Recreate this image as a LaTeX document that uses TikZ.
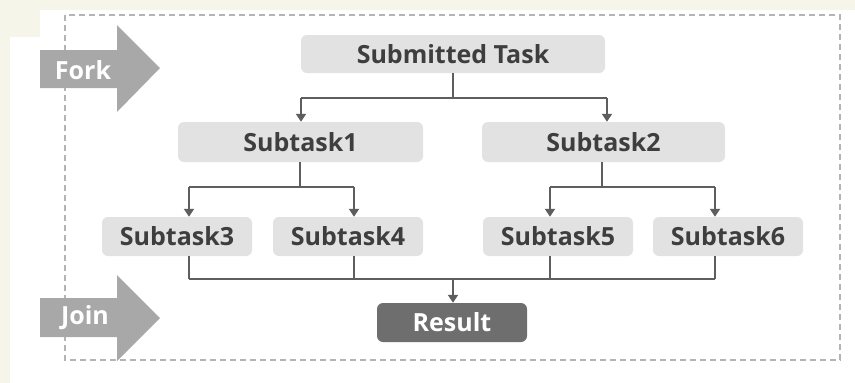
\documentclass[tikz,border=0pt]{standalone}
\usepackage{fontspec}
\setmainfont{Open Sans}
\usetikzlibrary{arrows.meta}
\definecolor{cream}{HTML}{F6F5EA}
\definecolor{boxfill}{HTML}{E2E2E2}
\definecolor{txt}{HTML}{3E3E3E}
\definecolor{linec}{HTML}{5E5E5E}
\definecolor{resfill}{HTML}{6E6E6E}
\definecolor{arrowgrey}{HTML}{A8A8A8}
\definecolor{dashc}{HTML}{B4B4B4}
\tikzset{
  task/.style={rectangle, rounded corners=6pt, fill=boxfill, text=txt, font=\bfseries\fontsize{25}{28}\selectfont, inner sep=0pt},
  result/.style={task, fill=resfill, text=white},
  conn/.style={draw=linec, line width=2.2pt},
  arr/.style={conn, -{Triangle[width=10pt,length=8pt]}},
  bigarrow/.style={fill=arrowgrey, draw=none},
  arrlabel/.style={text=white, font=\bfseries\fontsize{25}{28}\selectfont, inner sep=0pt},
}
\begin{document}
\begin{tikzpicture}[x=1pt,y=-1pt]
\useasboundingbox (0,0) rectangle (855,383);
\fill[cream] (0,0) rectangle (855,383);
\fill[white] (40,10) rectangle (855,383);
\fill[white] (10,37) rectangle (855,383);
% dashed frame
\draw[dashc, line width=1.3pt, dash pattern=on 6pt off 4pt] (65,15) rectangle (840,360);
% fork / join arrows
\fill[bigarrow] (40,50) -- (117,50) -- (117,25) -- (160,68) -- (117,112) -- (117,88) -- (40,88) -- cycle;
\node[arrlabel] (forklbl) at (83,70) {Fork};
\fill[bigarrow] (40,298) -- (117,298) -- (117,275) -- (160,318) -- (117,361) -- (117,337) -- (40,337) -- cycle;
\node[arrlabel] (joinlbl) at (85,318) {Join};
% nodes
\node[task, minimum width=304pt, minimum height=38pt] (st) at (453,54) {Submitted Task};
\node[task, minimum width=245pt, minimum height=40pt] (s1) at (300.5,142) {Subtask1};
\node[task, minimum width=243pt, minimum height=40pt] (s2) at (603.5,142) {Subtask2};
\node[task, minimum width=150pt, minimum height=39pt] (s3) at (177,236.5) {Subtask3};
\node[task, minimum width=150pt, minimum height=39pt] (s4) at (348,236.5) {Subtask4};
\node[task, minimum width=150pt, minimum height=39pt] (s5) at (558,236.5) {Subtask5};
\node[task, minimum width=150pt, minimum height=39pt] (s6) at (728,236.5) {Subtask6};
\node[result, minimum width=150pt, minimum height=39pt] (res) at (452,322.5) {Result};
% junction coordinates
\coordinate (j0) at (453,98);
\coordinate (j0l) at (301,98);
\coordinate (j0r) at (607,98);
\coordinate (j1) at (300,187);
\coordinate (j1l) at (189,187);
\coordinate (j1r) at (354,187);
\coordinate (j2) at (602,187);
\coordinate (j2l) at (550,187);
\coordinate (j2r) at (715,187);
\coordinate (jl) at (189,279);
\coordinate (jr) at (715,279);
\coordinate (jm) at (453,279);
% fork connectors
\draw[conn] (st.south -| j0) -- (j0);
\draw[conn] (j0l) -- (j0r);
\draw[arr] (j0l) -- (j0l |- s1.north);
\draw[arr] (j0r) -- (j0r |- s2.north);
\draw[conn] (s1.south -| j1) -- (j1);
\draw[conn] (j1l) -- (j1r);
\draw[arr] (j1l) -- (j1l |- s3.north);
\draw[arr] (j1r) -- (j1r |- s4.north);
\draw[conn] (s2.south -| j2) -- (j2);
\draw[conn] (j2l) -- (j2r);
\draw[arr] (j2l) -- (j2l |- s5.north);
\draw[arr] (j2r) -- (j2r |- s6.north);
% join connectors
\draw[conn] (s3.south -| jl) -- (jl);
\draw[conn] (s4.south -| j1r) -- (j1r |- jl);
\draw[conn] (s5.south -| j2l) -- (j2l |- jl);
\draw[conn] (s6.south -| jr) -- (jr);
\draw[conn] (jl) -- (jr);
\draw[arr] (jm) -- (jm |- res.north);
\end{tikzpicture}
\end{document}
